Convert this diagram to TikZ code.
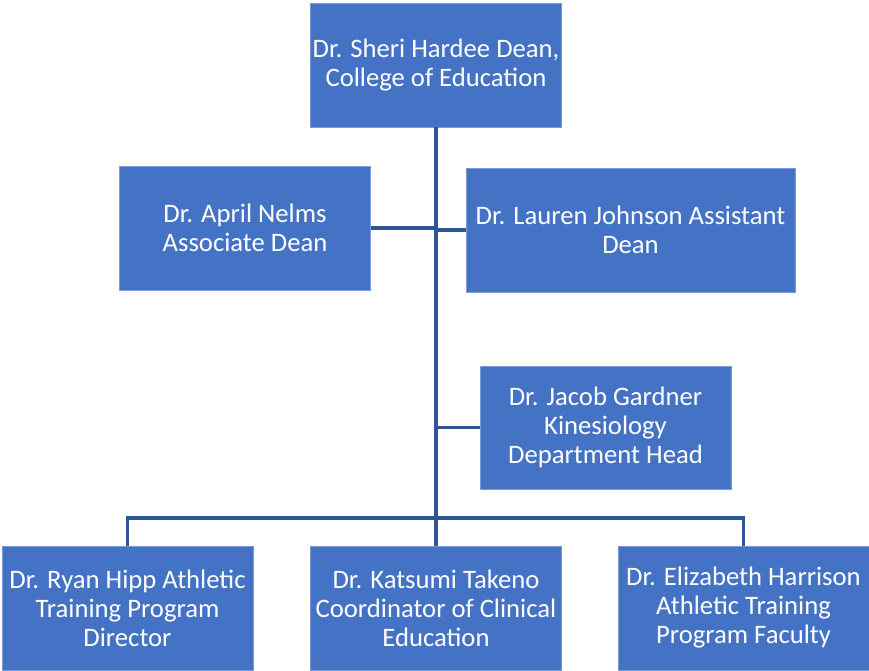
\documentclass[tikz,border=0pt]{standalone}
\usepackage{fontspec}
\setmainfont{Carlito}
\usepackage{tikz}

\definecolor{boxblue}{HTML}{4472C4}
\definecolor{boxedge}{HTML}{7A9BD6}
\definecolor{linkblue}{HTML}{2F5597}

\begin{document}
\begin{tikzpicture}[x=0.75pt,y=-0.75pt,
  person/.style={rectangle, draw=boxedge, line width=0.6pt, fill=boxblue, text=white,
    align=center, inner sep=0pt, minimum width=251*0.75pt, minimum height=124*0.75pt,
    font=\fontsize{20}{21.75}\selectfont},
  link/.style={draw=linkblue, line width=2.6pt}]
\useasboundingbox (0,0) rectangle (869,671);
\node [person] (dean) at (436,65) {Dr. Sheri Hardee Dean,\\College of Education};
\node [person] (nelms) at (245,228) {Dr. April Nelms\\Associate Dean};
\node [person, minimum width=329*0.75pt] (johnson) at (630.5,230) {Dr. Lauren Johnson Assistant\\Dean};
\node [person, minimum height=123*0.75pt] (gardner) at (605.5,427.5) {Dr. Jacob Gardner\\Kinesiology\\Department Head};
\node [person] (hipp) at (127.5,608) {Dr. Ryan Hipp Athletic\\Training Program\\Director};
\node [person] (takeno) at (436,608) {Dr. Katsumi Takeno\\Coordinator of Clinical\\Education};
\node [person] (harrison) at (743.5,608) {Dr. Elizabeth Harrison\\Athletic Training\\Program Faculty};
\coordinate (bus) at (436,518);
% connectors
\draw [link] (dean.south) -- (bus);
\draw [link] (nelms.east) -- (nelms.east -| dean.south);
\draw [link] (johnson.west) -- (johnson.west -| dean.south);
\draw [link] (gardner.west) -- (gardner.west -| dean.south);
\draw [link] (hipp.north) |- (bus) -| (harrison.north);
\draw [link] (bus) -- (takeno.north);
\end{tikzpicture}
\end{document}
